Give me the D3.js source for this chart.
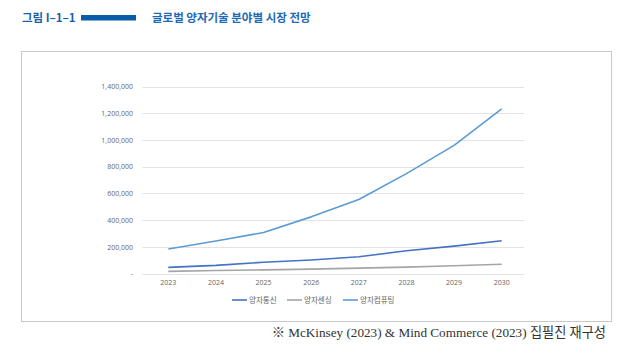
<!DOCTYPE html>
<html><head><meta charset="utf-8">
<script src="https://cdn.jsdelivr.net/npm/d3@7"></script>
<style>body{margin:0;background:#fff}svg{display:block}</style>
</head><body>
<svg id="c" width="640" height="364"></svg>
<script>
const years = ["2023","2024","2025","2026","2027","2028","2029","2030"];
const seriesNames = ["양자통신","양자센싱","양자컴퓨팅"];
const comm = [46000, 61000, 84000, 101000, 125000, 170000, 205000, 245000];
const sensing = [16000, 22000, 27000, 33000, 40000, 48000, 58000, 69000];
const computing = [183000, 243000, 307000, 424000, 554000, 748000, 959000, 1233000];
const yTicks = [0, 200000, 400000, 600000, 800000, 1000000, 1200000, 1400000];
const colors = ["#4472c4", "#a5a5a5", "#5b9bd5"];

const svg = d3.select("#c");
const KR = "'Noto Sans CJK KR','Noto Sans',sans-serif";

// header
svg.append("text").attr("x",22).attr("y",22).attr("font-family",KR).attr("font-weight","bold")
  .attr("font-size",11.5).attr("fill","#1b5faa").text("그림 I–1–1");
svg.append("rect").attr("x",81).attr("y",15).attr("width",55).attr("height",5.5).attr("fill","#0b5ca8");
svg.append("text").attr("x",152).attr("y",22).attr("font-family",KR).attr("font-weight","bold")
  .attr("font-size",11.5).attr("fill","#1e6ab4").text("글로벌 양자기술 분야별 시장 전망");

// frame
svg.append("rect").attr("x",21.5).attr("y",51.5).attr("width",590).attr("height",270)
  .attr("fill","#fff").attr("stroke","#c8c8c8").attr("stroke-width",1);

const x = d3.scaleBand().domain(years).range([144.5, 525.5]);
const y = d3.scaleLinear().domain([0, 1400000]).range([273.5, 86.5]);

// grid
svg.append("g").selectAll("line").data(yTicks).join("line")
  .attr("x1",142.5).attr("x2",524).attr("y1",d=>Math.round(y(d))+0.5).attr("y2",d=>Math.round(y(d))+0.5)
  .attr("stroke","#e3e3e3").attr("stroke-width",1);

// y axis
const yAxis = d3.axisLeft(y).tickValues(yTicks).tickSize(0).tickPadding(0)
  .tickFormat(d => d === 0 ? "-" : d3.format(",")(d));
const gy = svg.append("g").attr("transform","translate(133,0)").call(yAxis);
gy.select(".domain").remove();
gy.selectAll("text").attr("font-family","'Open Sans','Noto Sans',sans-serif").attr("font-size",7)
  .attr("fill","#666");

// x axis
const xAxis = d3.axisBottom(x).tickSize(0).tickPadding(0);
const gx = svg.append("g").attr("transform","translate(0,280)").call(xAxis);
gx.select(".domain").remove();
gx.selectAll("text").attr("font-family","'Open Sans','Noto Sans',sans-serif").attr("font-size",7)
  .attr("fill","#666");

// lines
const data = [comm, sensing, computing];
const line = d3.line().x((d,i)=>x(years[i]) + x.bandwidth()/2).y(d=>y(d));
svg.append("g").selectAll("path").data(data).join("path")
  .attr("d", d=>line(d)).attr("fill","none")
  .attr("stroke",(d,i)=>colors[i]).attr("stroke-width",1.6).attr("stroke-linejoin","round");

// legend
const legX = [232, 287, 343];
const lg = svg.append("g").selectAll("g").data(seriesNames).join("g")
  .attr("transform",(d,i)=>`translate(${legX[i]},300)`);
lg.append("line").attr("x1",0).attr("x2",15).attr("y1",0).attr("y2",0)
  .attr("stroke",(d,i)=>colors[i]).attr("stroke-width",1.6);
lg.append("text").attr("x",17).attr("y",2.5).attr("font-family",KR).attr("font-size",7.5)
  .attr("fill","#666").text(d=>d);

// source
svg.append("text").attr("x",606).attr("y",337).attr("text-anchor","end")
  .attr("font-family","'Liberation Serif','Noto Sans CJK KR',serif").attr("font-size",13.2)
  .attr("fill","#333").text("※ McKinsey (2023) & Mind Commerce (2023) 집필진 재구성");
</script>
</body></html>
